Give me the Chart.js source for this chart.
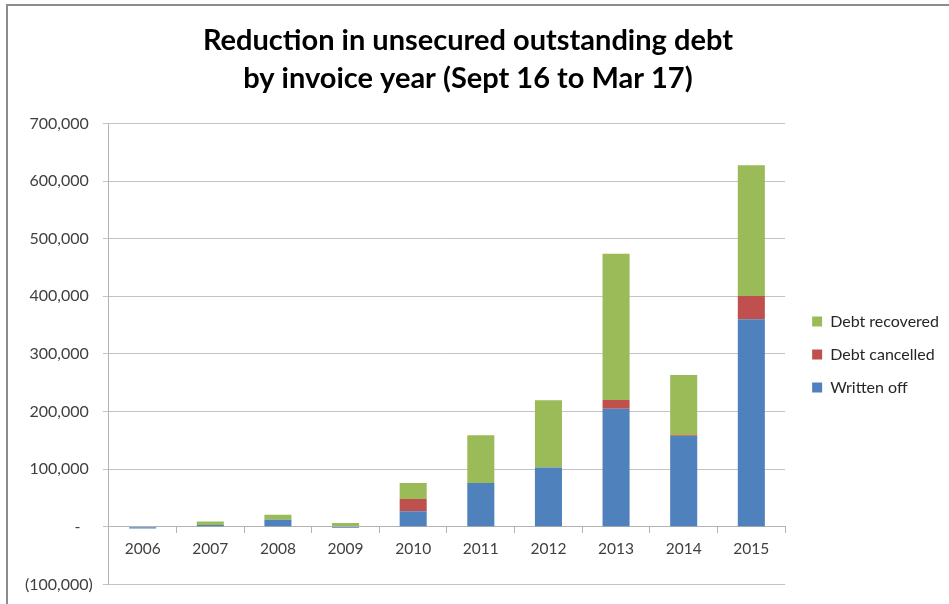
<!DOCTYPE html>
<html>
<head>
<meta charset="utf-8">
<script src="https://cdn.jsdelivr.net/npm/chart.js@4.4.1/dist/chart.umd.min.js"></script>
<style>
  html, body { margin: 0; padding: 0; background: #fff; overflow: hidden; }
  #frame { position: absolute; left: 6px; top: 4px; width: 943px; height: 600px;
           border-left: 2px solid #8c8c8c; border-top: 2px solid #8c8c8c; }
  #debtChart { position: absolute; left: 0; top: 0; }
</style>
</head>
<body>
<div id="frame"></div>
<canvas id="debtChart" width="949" height="604"></canvas>
<script>
const years = ['2006', '2007', '2008', '2009', '2010', '2011', '2012', '2013', '2014', '2015'];
const writtenOff = [-3000, 3000, 12000, -2000, 27000, 76000, 103000, 204600, 157400, 360300];
const debtCancelled = [0, 0, 0, 0, 21000, 0, 0, 15500, 1500, 40200];
const debtRecovered = [0, 6000, 9000, 6500, 28000, 83000, 116500, 253600, 104300, 227000];
const titleLines = ['Reduction in unsecured outstanding debt', 'by invoice year (Sept 16 to Mar 17)'];

const fontFamily = 'Lato, "Open Sans", sans-serif';

// accounting style: 0 -> "-", negatives in brackets
function fmtTick(v) {
  if (v === 0) return '-   ';
  const s = Math.abs(v).toLocaleString('en-US');
  return v < 0 ? '(' + s + ')' : s + ' ';
}

const ctx = document.getElementById('debtChart');

new Chart(ctx, {
  type: 'bar',
  data: {
    labels: years,
    datasets: [
      { label: 'Written off', data: writtenOff, backgroundColor: '#4f81bd' },
      { label: 'Debt cancelled', data: debtCancelled, backgroundColor: '#c0504d' },
      { label: 'Debt recovered', data: debtRecovered, backgroundColor: '#9bbb59' }
    ]
  },
  options: {
    responsive: false,
    animation: false,
    devicePixelRatio: 1,
    layout: { padding: { left: 15, right: 0, top: 22, bottom: 18 } },
    datasets: { bar: { barPercentage: 0.4, categoryPercentage: 1 } },
    plugins: {
      title: {
        display: true,
        // trailing spaces nudge the centred title a little to the left
        text: titleLines.map(t => t + '    '),
        color: '#000',
        font: { family: fontFamily, size: 29, weight: 'bold', lineHeight: 1.3 },
        padding: { top: 0, bottom: 26 }
      },
      legend: {
        position: 'right',
        reverse: true,
        title: { display: true, text: '', font: { size: 1 }, padding: { top: 100, bottom: 0 } },
        labels: {
          boxWidth: 10,
          boxHeight: 10,
          padding: 17,
          color: '#262626',
          font: { family: fontFamily, size: 16 }
        }
      },
      tooltip: { enabled: false }
    },
    scales: {
      x: {
        stacked: true,
        position: { y: 0 },
        grid: { drawOnChartArea: false, color: '#b3b3b3', tickLength: 6, offset: true },
        border: { color: '#b3b3b3' },
        ticks: { color: '#404040', font: { family: fontFamily, size: 15.5 }, padding: 7 }
      },
      y: {
        stacked: true,
        min: -100000,
        max: 700000,
        ticks: {
          stepSize: 100000,
          color: '#404040',
          font: { family: fontFamily, size: 16 },
          padding: 10,
          callback: fmtTick
        },
        grid: { color: '#c4c4c4', tickLength: 6 },
        border: { color: '#b3b3b3' }
      },
      // empty spacer between plot and legend
      gap: {
        position: 'right',
        display: true,
        ticks: { display: false },
        grid: { display: false },
        border: { display: false },
        afterFit: (s) => { s.width = 10; }
      }
    }
  }
});
</script>
</body>
</html>
